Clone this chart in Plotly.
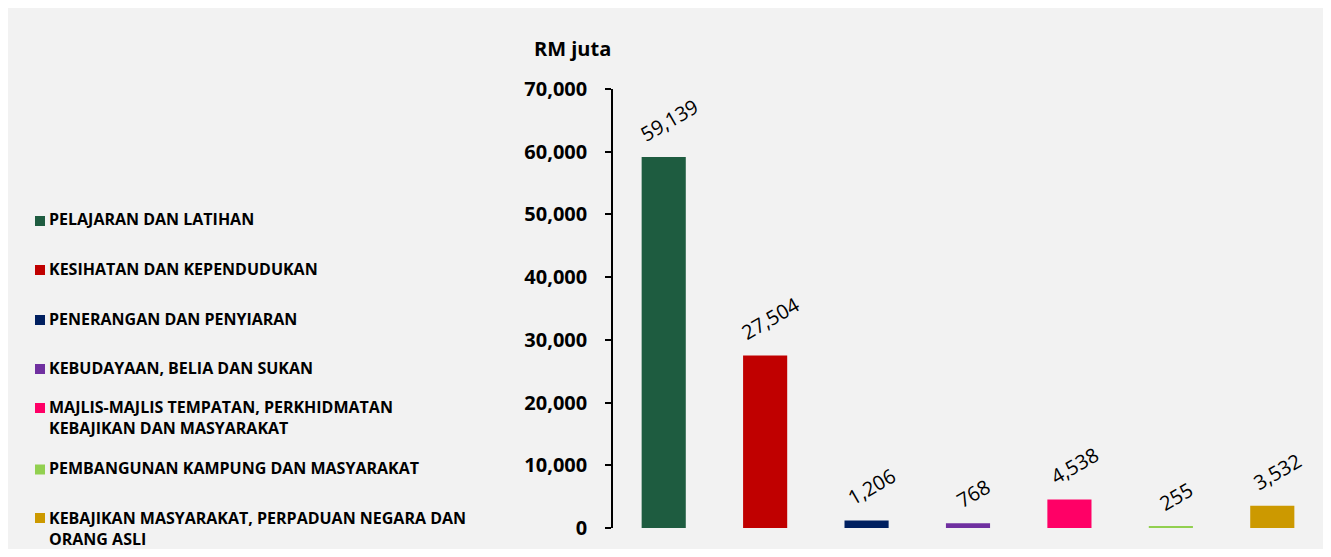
import plotly.graph_objects as go

categories = [
    "PELAJARAN DAN LATIHAN",
    "KESIHATAN DAN KEPENDUDUKAN",
    "PENERANGAN DAN PENYIARAN",
    "KEBUDAYAAN, BELIA DAN SUKAN",
    "MAJLIS-MAJLIS TEMPATAN, PERKHIDMATAN<br>KEBAJIKAN DAN MASYARAKAT",
    "PEMBANGUNAN KAMPUNG DAN MASYARAKAT",
    "KEBAJIKAN MASYARAKAT, PERPADUAN NEGARA DAN<br>ORANG ASLI",
]
values = [59139, 27504, 1206, 768, 4538, 255, 3532]
colors = ["#1e5c40", "#c00000", "#002060", "#7030a0", "#ff0066", "#92d050", "#cc9900"]
y_ticks = [0, 10000, 20000, 30000, 40000, 50000, 60000, 70000]

FONT = "Open Sans"
L, T, B = 605, 81, 21
W, H = 1315, 541
plot_bottom = H - B  # figure px of y = 0

# legend rows: (text centre, square centre) in figure px
legend_text_y = [211, 261, 311, 360, 409.5, 460, 520]
legend_sq_y = [213, 262, 312, 361, 400, 461.5, 510]

fig = go.Figure()
fig.add_trace(go.Bar(
    x=list(range(len(values))),
    y=values,
    marker=dict(color=colors, line=dict(width=0)),
    width=0.435,
    showlegend=False,
    hoverinfo="skip",
))

for i, v in enumerate(values):
    fig.add_annotation(
        x=i, y=v, xref="x", yref="y",
        text=f"{v:,}", textangle=-30, showarrow=False,
        xanchor="center", yanchor="bottom", yshift=7, xshift=5,
        font=dict(family=FONT, size=20, color="black"),
    )

for name, c, ty, sy in zip(categories, colors, legend_text_y, legend_sq_y):
    fig.add_annotation(
        x=0, y=0, xref="paper", yref="paper",
        xanchor="left", yanchor="middle", align="left",
        xshift=39 - L, yshift=plot_bottom - ty,
        text=f"<b>{name}</b>", showarrow=False,
        font=dict(family=FONT, size=16, color="black"),
    )
    fig.add_shape(
        type="rect", xref="paper", yref="paper",
        xsizemode="pixel", ysizemode="pixel", xanchor=0, yanchor=0,
        x0=27 - L, x1=37 - L,
        y0=plot_bottom - sy - 5, y1=plot_bottom - sy + 5,
        fillcolor=c, line=dict(width=0),
    )

fig.add_annotation(
    x=0, y=1, xref="paper", yref="paper",
    xanchor="right", yanchor="middle", xshift=0, yshift=T - 40,
    text="<b>RM juta</b>", showarrow=False,
    font=dict(family=FONT, size=20, color="black"),
)

fig.update_xaxes(
    range=[-0.5, len(values) - 0.5],
    showticklabels=False, showgrid=False, zeroline=False, showline=False, ticks="",
)
fig.update_yaxes(
    range=[0, 70000], tickvals=y_ticks, tickformat=",",
    showgrid=False, zeroline=False,
    showline=True, linecolor="black", linewidth=1.5,
    ticks="outside", ticklen=6, tickwidth=1.5, tickcolor="black",
    ticklabelstandoff=14,
    tickfont=dict(family=FONT, size=20, color="black", weight="bold"),
)
fig.update_layout(
    width=W, height=H,
    margin=dict(l=L, r=0, t=T, b=B),
    paper_bgcolor="#f2f2f2", plot_bgcolor="#f2f2f2",
    font=dict(family=FONT, color="black"),
)

fig.write_html("out.html")
